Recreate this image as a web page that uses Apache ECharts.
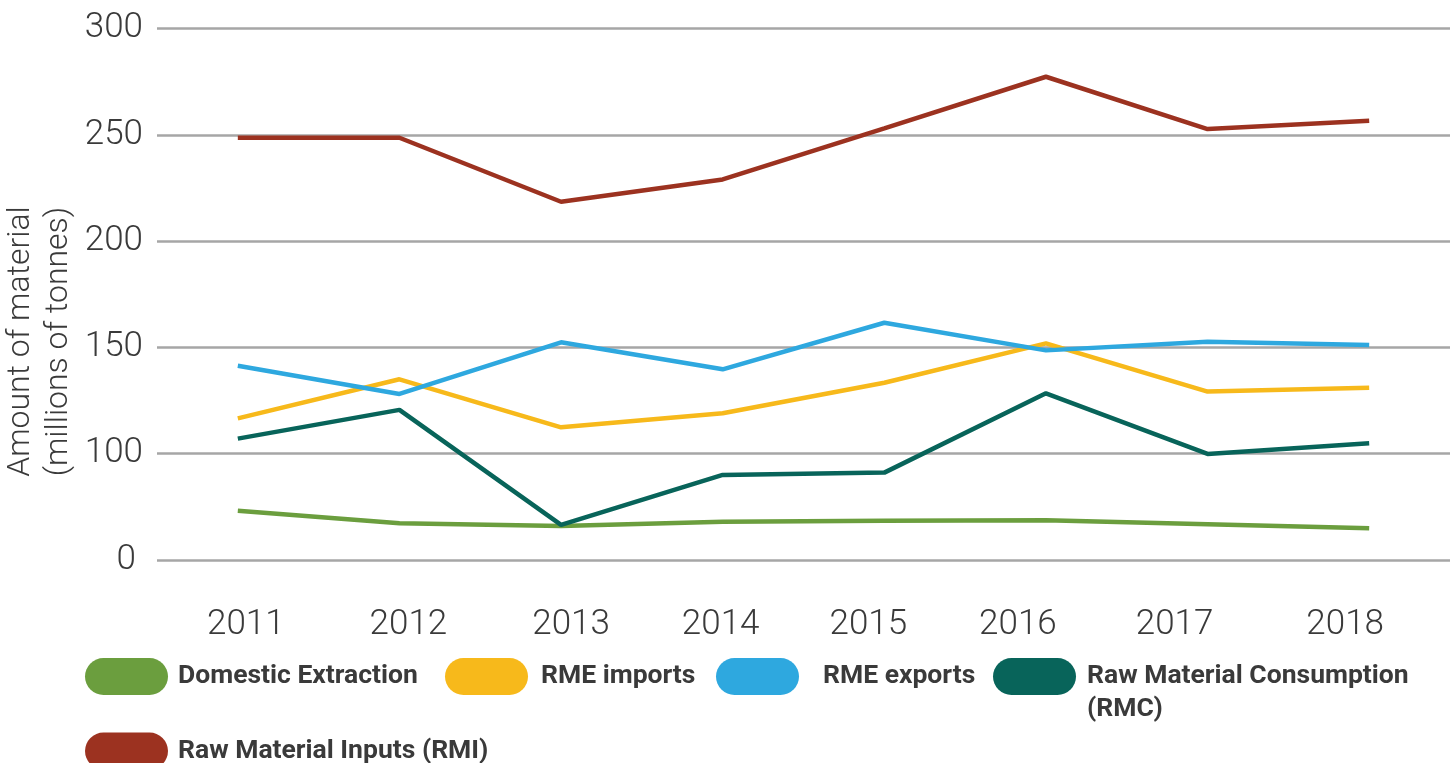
<!DOCTYPE html>
<html>
<head>
<meta charset="utf-8">
<title>Raw material flows 2011-2018</title>
<script src="https://cdn.jsdelivr.net/npm/echarts@6/dist/echarts.min.js"></script>
<style>
html, body { margin: 0; padding: 0; background: #fff; }
#chart { width: 1450px; height: 763px; }
</style>
</head>
<body>
<div id="chart"></div>
<script>
var years = ['2011', '2012', '2013', '2014', '2015', '2016', '2017', '2018'];
var domesticExtraction = [73.2, 67.3, 66, 68, 68.5, 68.7, 66.8, 64.9];
var rmeImports = [116.6, 135, 112.4, 119, 133.4, 151.9, 129.2, 131];
var rmeExports = [141.4, 128.1, 152.4, 139.7, 161.6, 148.6, 152.7, 151.1];
var rawMaterialConsumption = [107.1, 120.6, 66.5, 90, 91.1, 128.4, 99.9, 104.9];
var rawMaterialInputs = [248.6, 248.6, 218.5, 229, 253, 277.3, 252.7, 256.6];

// the original labels its lowest gridline "0" although it sits one 50-step below 100
var yTickValues = [50, 100, 150, 200, 250, 300];
var yTickLabels = ['0', '100', '150', '200', '250', '300'];

var TEXT = '#3a3a3a';
var pill = 'path://M18.5,0 L64.5,0 A18.5,18.5 0 0 1 64.5,37 L18.5,37 A18.5,18.5 0 0 1 18.5,0 Z';
// year labels in the source are not centred under their data column (px, + = right)
var yearLabelShift = [8, 9, 10, -2, -16, -28, -33, -24];

var lines = [
	{name: 'Domestic Extraction', data: domesticExtraction, color: '#6b9e3e'},
	{name: 'RME imports', data: rmeImports, color: '#f7b91b'},
	{name: 'RME exports', data: rmeExports, color: '#2ea8df'},
	{name: 'Raw Material Consumption (RMC)', data: rawMaterialConsumption, color: '#08645a'},
	{name: 'Raw Material Inputs (RMI)', data: rawMaterialInputs, color: '#9c3220'}
];

// one legend per entry so each pill lands where the original put it
var legendSpots = [
	{left: 85, top: 658, gap: 5},
	{left: 445, top: 658, gap: 8},
	{left: 716, top: 658, gap: 19},
	{left: 993, top: 627, gap: 6, twoLines: true},
	{left: 85, top: 732.5, gap: 5}
];

var legends = [];
for (var i = 0; i < lines.length; i++) {
	var spot = legendSpots[i];
	legends.push({
		data: [lines[i].name],
		left: spot.left,
		top: spot.top,
		padding: 0,
		icon: pill,
		itemWidth: 83,
		itemHeight: 37,
		selectedMode: false,
		itemStyle: {borderWidth: 0},
		// empty first line keeps "Raw Material Consumption" level with its pill
		formatter: spot.twoLines ? function(name) {
			return '\n' + name.replace(' (', '\n(');
		} : '{name}',
		textStyle: {
			fontFamily: 'Roboto',
			fontWeight: 'bold',
			fontSize: 26.5,
			lineHeight: 33,
			color: TEXT,
			padding: [0, 0, 0, spot.gap]
		}
	});
}

var series = [];
for (var k = 0; k < lines.length; k++) {
	series.push({
		name: lines[k].name,
		type: 'line',
		data: lines[k].data,
		showSymbol: false,
		silent: true,
		itemStyle: {color: lines[k].color},
		lineStyle: {color: lines[k].color, width: 4.5}
	});
}

var yearRich = {};
for (var n = 0; n < yearLabelShift.length; n++) {
	var s = yearLabelShift[n];
	yearRich['n' + n] = {
		fontFamily: 'Roboto',
		fontWeight: 300,
		fontSize: 35,
		color: TEXT,
		padding: s > 0 ? [0, 0, 0, 2 * s] : [0, -2 * s, 0, 0]
	};
}

var chart = echarts.init(document.getElementById('chart'), null, {renderer: 'canvas'});
chart.setOption({
	animation: false,
	backgroundColor: '#fff',
	grid: {left: 157, right: -6, top: 28.5, bottom: 203, containLabel: false},
	legend: legends,
	xAxis: {
		type: 'category',
		data: years,
		boundaryGap: true,
		axisLine: {show: false},
		axisTick: {show: false},
		axisLabel: {
			interval: 0,
			hideOverlap: false,
			margin: 48,
			fontFamily: 'Roboto',
			fontWeight: 300,
			fontSize: 35,
			color: TEXT,
			formatter: function(v, idx) {
				return '{n' + idx + '|' + v + '}';
			},
			rich: yearRich
		}
	},
	yAxis: {
		type: 'value',
		min: 50,
		max: 300,
		interval: 50,
		axisLine: {show: false},
		axisTick: {show: false},
		splitLine: {lineStyle: {color: '#a6a6a6', width: 2.5}},
		axisLabel: {
			margin: 14,
			fontFamily: 'Roboto',
			fontWeight: 300,
			fontSize: 35,
			color: TEXT,
			formatter: function(v) {
				var idx = yTickValues.indexOf(v);
				if (idx === 0) {
					return '{z|' + yTickLabels[idx] + '}';
				}
				return idx < 0 ? '' : yTickLabels[idx];
			},
			rich: {
				z: {fontFamily: 'Roboto', fontWeight: 300, fontSize: 35, color: TEXT, padding: [0, 7, 0, 0]}
			}
		}
	},
	graphic: [{
		type: 'text',
		x: 40,
		y: 341.5,
		rotation: Math.PI / 2,
		silent: true,
		style: {
			text: 'Amount of material\n(millions of tonnes)',
			x: 0,
			y: 0,
			align: 'center',
			verticalAlign: 'middle',
			lineHeight: 38,
			fontFamily: 'Roboto',
			fontWeight: 300,
			fontSize: 32,
			fill: TEXT
		}
	}],
	series: series
});
</script>
</body>
</html>
